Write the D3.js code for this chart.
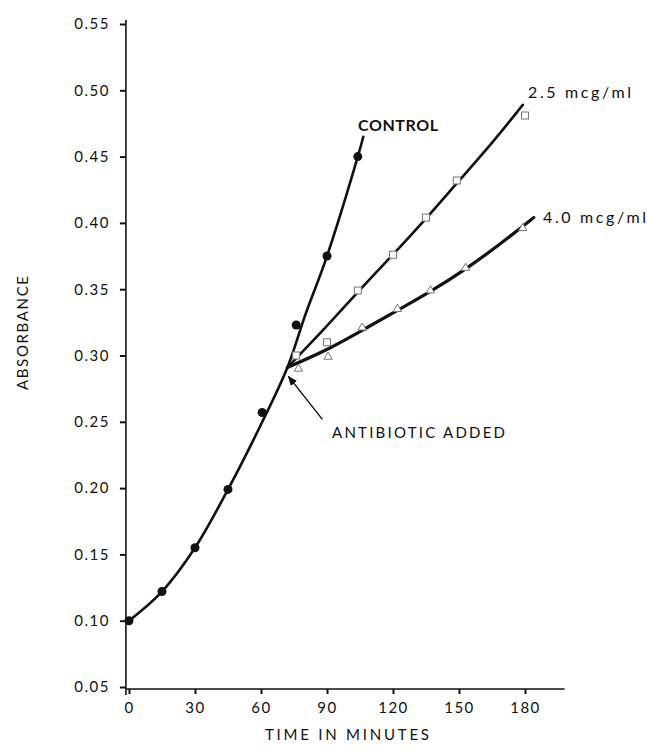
<!DOCTYPE html>
<html>
<head>
<meta charset="utf-8">
<script src="https://cdn.jsdelivr.net/npm/d3@7/dist/d3.min.js"></script>
<style>
  body { margin: 0; background: #fff; }
  text { font-family: Lato, "DejaVu Sans", sans-serif; fill: #111; }
</style>
</head>
<body>
<svg id="chart" width="647" height="751"></svg>
<script>
const xTicks = [0, 30, 60, 90, 120, 150, 180];
const yTicks = [0.05, 0.10, 0.15, 0.20, 0.25, 0.30, 0.35, 0.40, 0.45, 0.50, 0.55];

// measured points (minutes, absorbance)
const controlPoints = [[0, 0.100], [15, 0.122], [30, 0.155], [45, 0.199], [60.5, 0.257], [76, 0.323], [90, 0.375], [104, 0.450]];
const mcg25Points = [[76, 0.300], [90, 0.310], [104, 0.349], [120, 0.376], [135, 0.404], [149, 0.432], [180, 0.481]];
const mcg40Points = [[77, 0.290], [90.5, 0.299], [106, 0.321], [122, 0.335], [137, 0.349], [153, 0.366], [179, 0.396]];

// hand drawn curves
const controlCurve = [[0, 0.100], [15, 0.122], [30, 0.155], [45, 0.199], [60, 0.248], [72, 0.291], [80, 0.330], [90, 0.375], [104, 0.450], [106.5, 0.465]];
const mcg25Curve = [[72, 0.291], [72, 0.291], [90, 0.322], [104, 0.348], [120, 0.376], [135, 0.403], [149, 0.430], [165, 0.460], [179, 0.489], [179, 0.489]];
const mcg40Curve = [[72, 0.291], [72, 0.291], [90, 0.304], [106, 0.319], [122, 0.334], [137, 0.348], [153, 0.365], [168, 0.383], [184, 0.404], [184, 0.404]];

const antibioticAdded = [72, 0.291];

const svg = d3.select("#chart");

const x = d3.scaleLinear().domain([0, 180]).range([129, 525]);
const y = d3.scaleLinear().domain([0.05, 0.55]).range([687, 24]);

const axisY = y(0.05) + 2;   // baseline of the x axis
const axisX = x(-1.4);       // position of the y axis

// x axis
const xAxis = d3.axisBottom(x).tickValues(xTicks).tickSize(5).tickSizeOuter(0).tickPadding(8);
const gx = svg.append("g")
  .attr("transform", `translate(0,${axisY})`)
  .call(xAxis);
gx.select(".domain").attr("d", `M${axisX},0H${x(198)}`);

// y axis
const yAxis = d3.axisLeft(y).tickValues(yTicks).tickFormat(d3.format(".2f")).tickSize(6).tickSizeOuter(0).tickPadding(10);
const gy = svg.append("g")
  .attr("transform", `translate(${axisX},0)`)
  .call(yAxis);
gy.select(".domain").attr("d", `M0,${axisY + 6}V${y(0.55) - 4}`);

svg.selectAll(".domain").attr("stroke", "#111").attr("stroke-width", 1.6);
svg.selectAll(".tick line").attr("stroke", "#111").attr("stroke-width", 2);
svg.selectAll(".tick text")
  .attr("font-size", 15)
  .attr("letter-spacing", 1.5)
  .attr("fill", "#111")
  .attr("font-family", "Lato, sans-serif");

// curves
const line = d3.line()
  .x(d => x(d[0]))
  .y(d => y(d[1]));

svg.selectAll("path.curve")
  .data([
    { pts: controlCurve, curve: d3.curveCatmullRom, w: 2.6 },
    { pts: mcg25Curve, curve: d3.curveBasis, w: 2.6 },
    { pts: mcg40Curve, curve: d3.curveBasis, w: 3.2 },
  ])
  .join("path")
  .attr("class", "curve")
  .attr("fill", "none")
  .attr("stroke", "#111")
  .attr("stroke-width", d => d.w)
  .attr("stroke-linecap", "round")
  .attr("d", d => line.curve(d.curve)(d.pts));

// markers
svg.selectAll("circle.control")
  .data(controlPoints)
  .join("circle")
  .attr("class", "control")
  .attr("cx", d => x(d[0]))
  .attr("cy", d => y(d[1]))
  .attr("r", 4.5)
  .attr("fill", "#111");

svg.selectAll("rect.mcg25")
  .data(mcg25Points)
  .join("rect")
  .attr("class", "mcg25")
  .attr("x", d => x(d[0]) - 3.5)
  .attr("y", d => y(d[1]) - 3.5)
  .attr("width", 7)
  .attr("height", 7)
  .attr("fill", "#fff")
  .attr("stroke", "#777")
  .attr("stroke-width", 1);

const tri = d3.symbol().type(d3.symbolTriangle).size(30);
svg.selectAll("path.mcg40")
  .data(mcg40Points)
  .join("path")
  .attr("class", "mcg40")
  .attr("transform", d => `translate(${x(d[0])},${y(d[1])})`)
  .attr("d", tri)
  .attr("fill", "#fff")
  .attr("stroke", "#777")
  .attr("stroke-width", 1);

// arrow to the point where the antibiotic was added
svg.append("defs").append("marker")
  .attr("id", "head")
  .attr("viewBox", "0 0 10 10")
  .attr("refX", 9)
  .attr("refY", 5)
  .attr("markerWidth", 10)
  .attr("markerHeight", 10)
  .attr("markerUnits", "userSpaceOnUse")
  .attr("orient", "auto")
  .append("path")
  .attr("d", "M0,1L10,5L0,9Z")
  .attr("fill", "#111");

const tipX = x(antibioticAdded[0]) + 1, tipY = y(antibioticAdded[1]) + 9;
svg.append("line")
  .attr("x1", tipX + 34)
  .attr("y1", tipY + 43)
  .attr("x2", tipX)
  .attr("y2", tipY)
  .attr("stroke", "#111")
  .attr("stroke-width", 1.4)
  .attr("marker-end", "url(#head)");

// labels
const label = (t, lx, ly, size, len, weight) =>
  svg.append("text")
    .attr("x", lx)
    .attr("y", ly)
    .attr("font-size", size)
    .attr("font-weight", weight || 400)
    .attr("textLength", len)
    .attr("lengthAdjust", "spacing")
    .text(t);

label("CONTROL", 358, 131, 16, 80, 700);
label("2.5  mcg/ml", 528, 98, 16, 103);
label("4.0  mcg/ml", 543, 223, 16, 103);
label("ANTIBIOTIC ADDED", 332, 438, 15, 173);
label("TIME IN MINUTES", 265, 740, 15, 164);

svg.append("text")
  .attr("transform", "translate(28,390) rotate(-90)")
  .attr("font-size", 15)
  .attr("textLength", 114)
  .attr("lengthAdjust", "spacing")
  .text("ABSORBANCE");
</script>
</body>
</html>
